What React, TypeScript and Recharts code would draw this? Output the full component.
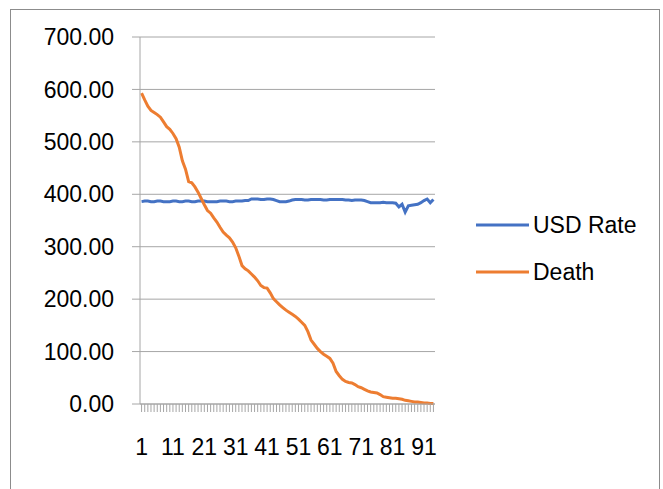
import React from 'react';
import { LineChart, Line, XAxis, YAxis, CartesianGrid, Legend } from 'recharts';

// USD rate per day
const usdRate = [
  386, 387, 387, 386, 386, 387, 387, 386, 386, 386, 387, 387, 386, 386,
  387, 387, 386, 386, 387, 387, 387, 386, 386, 386, 386, 387, 387, 387, 386, 386, 387, 387, 387, 388, 388,
  391, 391, 391, 390, 390, 391, 391, 390, 388,
  386, 386, 386, 387,
  389, 390, 390, 390, 389, 389, 390, 390, 390, 390, 389, 389, 390, 390, 390, 390, 390, 389,
  389, 388, 389, 389, 389, 388, 386,
  384, 384, 384, 384, 385, 384, 384, 384,
  383, 376, 381, 366, 378, 379, 380, 381, 384, 388, 391, 384, 390,
];

// Deaths per day
const death = [
  593, 580, 568, 560, 556, 552, 547, 538, 529, 524,
  516, 506, 490, 464, 448, 424, 422, 414, 404, 392,
  380, 369, 364, 355, 347, 337, 328, 322, 317, 309,
  298, 282, 264, 258, 254, 248, 242, 235, 226, 222,
  221, 212, 201, 195, 189, 184, 179, 175, 171, 167,
  162, 156, 150, 138, 122, 114, 106, 100, 95, 91,
  87, 78, 62, 54, 47, 43, 41, 40, 37, 33,
  31, 28, 25, 23, 22, 21, 18, 14, 13, 12,
  11, 11, 10, 9, 7, 6, 5, 4, 4, 3,
  2, 2, 1, 1,
];

const days = usdRate.map((_, i) => i + 1);
const xTickLabels = [1, 11, 21, 31, 41, 51, 61, 71, 81, 91];
const yTicks = [0, 100, 200, 300, 400, 500, 600, 700];
const seriesNames = ['USD Rate', 'Death'];

const data = days.map((d, i) => ({ day: d, usd: usdRate[i], death: death[i] }));

const FONT = '"Liberation Sans", Arial, sans-serif';
const GRID = '#a6a6a6';

const DayTick = (props: any) => {
  const { x, y, payload } = props;
  if (!xTickLabels.includes(payload.value)) return <g />;
  return (
    <text x={x} y={y} dy={39} textAnchor="middle" fontSize={23} fontFamily={FONT} fill="#000">
      {payload.value}
    </text>
  );
};

const renderLegend = (props: any) => {
  const items = [...(props.payload || [])].sort(
    (a: any, b: any) => seriesNames.indexOf(a.value) - seriesNames.indexOf(b.value)
  );
  return (
    <svg width={180} height={80}>
      {items.map((entry: any, i: number) => (
        <g key={entry.value}>
          <line x1={0} x2={53} y1={15 + i * 47} y2={15 + i * 47} stroke={entry.color} strokeWidth={3} />
          <text x={57} y={15 + i * 47} dy="0.355em" fontSize={23} fontFamily={FONT} fill="#000">
            {entry.value}
          </text>
        </g>
      ))}
    </svg>
  );
};

const App: React.FC = () => {
  return (
    <div style={{ position: 'absolute', left: 0, top: 0, width: 663, height: 489, background: '#fff', fontFamily: FONT, overflow: 'hidden' }}>
      <div style={{ position: 'absolute', left: 10, top: 9, width: 648, height: 500, border: '1px solid #8c8c8c' }} />
      <LineChart width={663} height={489} data={data} margin={{ top: 37, right: 228, bottom: 25, left: 0 }}>
        <CartesianGrid vertical={false} stroke={GRID} />
        <XAxis
          dataKey="day"
          scale="band"
          interval={0}
          height={60}
          tickSize={8}
          tickMargin={4}
          axisLine={{ stroke: GRID }}
          tickLine={{ stroke: GRID }}
          tick={(p: any) => <DayTick {...p} />}
        />
        <YAxis
          domain={[0, 700]}
          ticks={yTicks}
          interval={0}
          width={140}
          tickSize={8}
          tickMargin={18}
          axisLine={{ stroke: GRID }}
          tickLine={{ stroke: GRID }}
          tickFormatter={(v: number) => v.toFixed(2)}
          tick={{ fontSize: 23, fill: '#000', fontFamily: FONT }}
        />
        <Legend
          layout="horizontal"
          align="center"
          verticalAlign="middle"
          content={renderLegend}
          wrapperStyle={{ left: 476, top: 210, width: 180, height: 80 }}
        />
        <Line type="linear" dataKey="usd" name="USD Rate" stroke="#4472C4" strokeWidth={3} dot={false} activeDot={false} isAnimationActive={false} />
        <Line type="linear" dataKey="death" name="Death" stroke="#ED7D31" strokeWidth={3} dot={false} activeDot={false} isAnimationActive={false} />
      </LineChart>
    </div>
  );
};

export default App;
